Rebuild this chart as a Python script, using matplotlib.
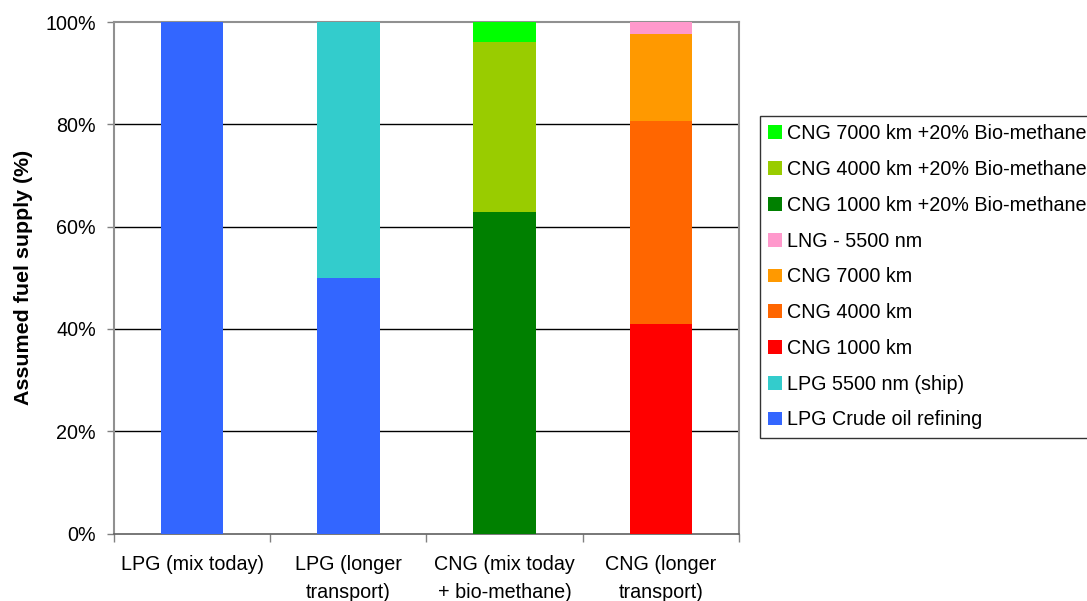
import matplotlib.pyplot as plt
import numpy as np

plt.rcParams['font.family'] = ['Liberation Sans', 'DejaVu Sans']

# Fuel supply mix per scenario (% of supply)
categories = ['LPG (mix today)', 'LPG (longer\ntransport)',
              'CNG (mix today\n+ bio-methane)', 'CNG (longer\ntransport)']
series = ['LPG Crude oil refining', 'LPG 5500 nm (ship)', 'CNG 1000 km',
          'CNG 4000 km', 'CNG 7000 km', 'LNG - 5500 nm',
          'CNG 1000 km +20% Bio-methane', 'CNG 4000 km +20% Bio-methane',
          'CNG 7000 km +20% Bio-methane']
lpg_crude = [100, 50, 0, 0]
lpg_ship = [0, 50, 0, 0]
cng_1000 = [0, 0, 0, 41.0]
cng_4000 = [0, 0, 0, 39.6]
cng_7000 = [0, 0, 0, 17.0]
lng_5500 = [0, 0, 0, 2.4]
cng_1000_bio = [0, 0, 62.8, 0]
cng_4000_bio = [0, 0, 33.3, 0]
cng_7000_bio = [0, 0, 3.9, 0]
values = [lpg_crude, lpg_ship, cng_1000, cng_4000, cng_7000, lng_5500,
          cng_1000_bio, cng_4000_bio, cng_7000_bio]
colors = ['#3366FF', '#33CCCC', '#FF0000', '#FF6600', '#FF9900', '#FF99CC',
          '#008000', '#99CC00', '#00FF00']

fig = plt.figure(figsize=(10.87, 6.01), dpi=100)
ax = fig.add_axes([114 / 1087, 1 - 533.5 / 601, 625 / 1087, 511.5 / 601])

x = np.arange(len(categories))
bottom = np.zeros(len(categories))
handles = []
for name, vals, c in zip(series, values, colors):
    vals = np.array(vals, dtype=float)
    h = ax.bar(x, vals, 0.4, bottom=bottom, color=c, label=name, zorder=3)
    handles.append(h)
    bottom += vals

ax.set_xlim(-0.5, len(categories) - 0.5)
ax.set_ylim(0, 100)
ax.set_yticks(np.arange(0, 101, 20))
ax.set_yticklabels([f'{v}%' for v in range(0, 101, 20)], fontsize=14.2)
ax.set_xticks(x)
ax.set_xticklabels(categories, fontsize=14.2, linespacing=1.6)
ax.set_xticks(np.arange(-0.5, len(categories), 1), minor=True)
ax.tick_params(axis='x', which='major', length=0, pad=15.5)
ax.tick_params(axis='x', which='minor', length=6, color='#808080', width=1)
ax.tick_params(axis='y', length=5, color='#808080', width=1, pad=8)

for y in [20, 40, 60, 80]:
    ax.axhline(y, color='#000000', lw=1, zorder=1)

for side in ['top', 'right', 'left']:
    ax.spines[side].set_color('#909090')
    ax.spines[side].set_linewidth(1.5)
ax.spines['bottom'].set_color('#606060')
ax.spines['bottom'].set_linewidth(1.2)

ax.set_ylabel('Assumed fuel supply (%)', fontsize=15.4, fontweight='bold')
ax.yaxis.set_label_coords(-0.129, 0.5)

leg = fig.legend(handles[::-1], series[::-1], loc='upper left',
                 bbox_to_anchor=(760 / 1087, 1 - 116 / 601), fontsize=14.2,
                 frameon=True, fancybox=False, edgecolor='black',
                 handlelength=0.7, handleheight=0.7, handletextpad=0.25,
                 labelspacing=0.85, borderpad=0.42, borderaxespad=0)
leg.get_frame().set_linewidth(1)

fig.savefig('out.png', dpi=100)
